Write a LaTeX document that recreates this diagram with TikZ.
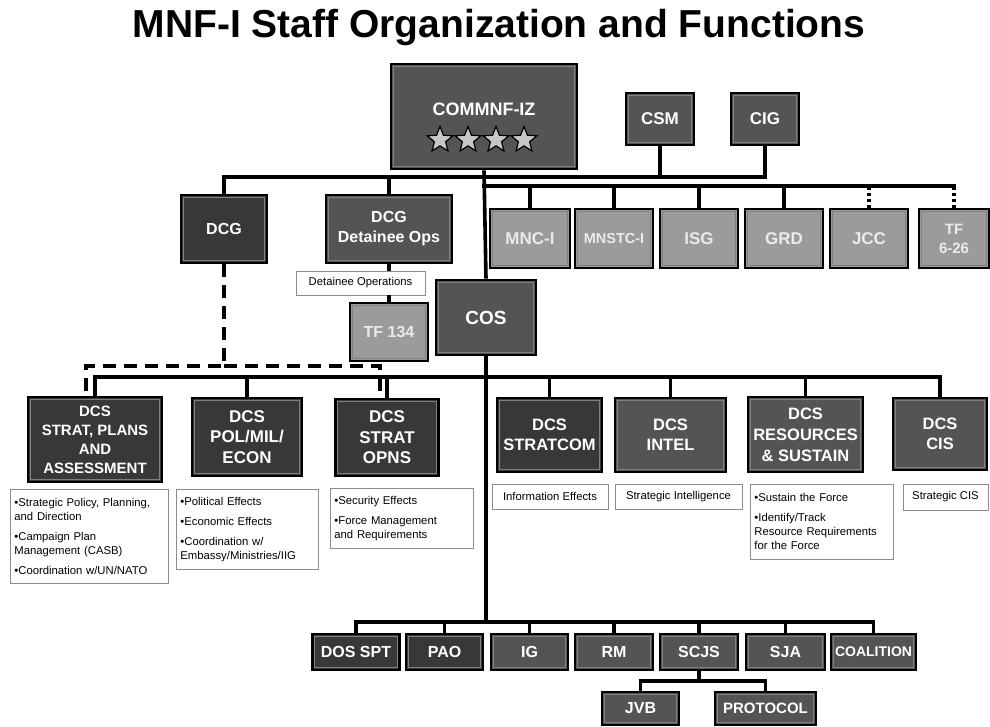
\documentclass[tikz,border=0pt]{standalone}
\usepackage{fontspec}
\setmainfont{Liberation Sans}
\usetikzlibrary{shapes.geometric}
\definecolor{boxdark}{RGB}{56,56,56}
\definecolor{boxmid}{RGB}{84,84,84}
\definecolor{boxlight}{RGB}{155,155,155}
\newcommand\fsz[2]{\fontsize{#1}{#2}\selectfont}
\tikzset{
    unit/.style={draw=black, line width=2.6pt, text=white, align=center, inner sep=1pt,
                 path picture={\draw[black!50, line width=1pt]
                    ([shift={(2.4pt,2.4pt)}]path picture bounding box.south west) rectangle
                    ([shift={(-2.4pt,-2.4pt)}]path picture bounding box.north east);}},
    dark/.style={unit, fill=boxdark},
    mid/.style={unit, fill=boxmid},
    light/.style={unit, fill=boxlight, text=white!92!black},
    sz/.style 2 args={minimum width=#1pt, minimum height=#2pt},
    fn/.style={draw=black!45, line width=0.8pt, fill=white, align=left, anchor=north west,
               font=\fsz{11.3}{14}, inner sep=4pt},
    link/.style={line width=3.6pt},
    dotlink/.style={line width=3.6pt, dash pattern=on 3pt off 3pt},
    dashlink/.style={line width=3.6pt, dash pattern=on 13pt off 8pt},
    rank/.style={star, star points=5, star point ratio=2.3, minimum size=27pt, inner sep=0pt,
                 fill=black!22, draw=black, line width=1.2pt}
}

\begin{document}
\begin{tikzpicture}[x=1pt, y=-1pt]
    \path[use as bounding box, fill=white] (0,0) rectangle (990,726);

    \node[font=\fsz{39}{44}\bfseries] (title) at (499,27) {MNF-I Staff Organization and Functions};

    % command group
    \node[mid, sz={186}{105}, font=\fsz{18}{20}\bfseries, text depth=14pt] (cmd) at (484,116.5) {COMMNF-IZ};
    \foreach \i/\dx in {1/-42,2/-14,3/14,4/42}
        \node[rank] (rank\i) at (482+\dx,140) {};
    \node[mid, sz={68}{52}, font=\fsz{17}{20}\bfseries] (csm) at (660,119) {CSM};
    \node[mid, sz={68}{52}, font=\fsz{17}{20}\bfseries] (cig) at (765,119) {CIG};

    \node[dark, sz={86}{68}, font=\fsz{16}{20}\bfseries] (dcg) at (224,229) {DCG};
    \node[mid, sz={126}{68}, font=\fsz{16}{20}\bfseries] (dcgdet) at (389,229) {DCG\\Detainee Ops};

    \node[light, sz={80}{59}, font=\fsz{17}{20}\bfseries] (mnci) at (530,238.5) {MNC-I};
    \node[light, sz={78}{59}, font=\fsz{14.5}{18}\bfseries] (mnstci) at (614,238.5) {MNSTC-I};
    \node[light, sz={78}{59}, font=\fsz{17}{20}\bfseries] (isg) at (699,238.5) {ISG};
    \node[light, sz={78}{59}, font=\fsz{17}{20}\bfseries] (grd) at (784,238.5) {GRD};
    \node[light, sz={78}{59}, font=\fsz{17}{20}\bfseries] (jcc) at (869,238.5) {JCC};
    \node[light, sz={70}{59}, font=\fsz{15}{19}\bfseries] (tf626) at (954,238.5) {TF\\6-26};

    \node[fn, anchor=center, sz={129}{24}, align=center] (detops) at (360.5,283) {Detainee Operations};
    \node[light, sz={78}{58}, font=\fsz{16}{20}\bfseries] (tf134) at (389,332) {TF 134};
    \node[mid, sz={100}{75}, font=\fsz{19}{22}\bfseries] (cos) at (486,317.5) {COS};

    % staff directorates
    \node[dark, sz={134}{85}, font=\fsz{15}{19}\bfseries] (sp) at (95,439.5) {DCS\\STRAT, PLANS\\AND\\ASSESSMENT};
    \node[dark, sz={110}{78}, font=\fsz{17}{20.5}\bfseries] (pol) at (247,437) {DCS\\POL/MIL/\\ECON};
    \node[dark, sz={103}{77}, font=\fsz{17}{20.5}\bfseries] (opns) at (387,437.5) {DCS\\STRAT\\OPNS};
    \node[dark, sz={105}{74}, font=\fsz{16.5}{20}\bfseries] (stratcom) at (549.5,435) {DCS\\STRATCOM};
    \node[mid, sz={111}{74}, font=\fsz{16.5}{20}\bfseries] (intel) at (670.5,435) {DCS\\INTEL};
    \node[mid, sz={115}{75}, font=\fsz{16.5}{21}\bfseries] (res) at (805.5,434.5) {DCS\\RESOURCES\\\& SUSTAIN};
    \node[mid, sz={94}{72}, font=\fsz{16.5}{20}\bfseries] (cis) at (940,434) {DCS\\CIS};

    \node[fn, text width=150pt, minimum height=94pt] (fsp) at (10,489)
        {•Strategic Policy, Planning,\\and Direction\\[6pt]•Campaign Plan\\Management (CASB)\\[6pt]•Coordination w/UN/NATO};
    \node[fn, text width=134pt, minimum height=80pt] (fpol) at (176,489)
        {•Political Effects\\[6pt]•Economic Effects\\[6pt]•Coordination w/\\Embassy/Ministries/IIG};
    \node[fn, text width=135pt, minimum height=60pt] (fopns) at (330,488)
        {•Security Effects\\[6pt]•Force Management\\and Requirements};
    \node[fn, anchor=center, sz={116}{25}, align=center] (fstratcom) at (550,496.5) {Information Effects};
    \node[fn, anchor=center, sz={127}{25}, align=center] (fintel) at (678.5,496.5) {Strategic Intelligence};
    \node[fn, text width=135pt, minimum height=75pt] (fres) at (750,484)
        {•Sustain the Force\\[6pt]•Identify/Track\\Resource Requirements\\for the Force};
    \node[fn, anchor=center, sz={85}{26}, align=center] (fcis) at (945.5,497) {Strategic CIS};

    % special staff
    \node[dark, sz={87}{36}, font=\fsz{16}{19}\bfseries] (dosspt) at (356,652) {DOS SPT};
    \node[dark, sz={77}{36}, font=\fsz{16}{19}\bfseries] (pao) at (444.5,652) {PAO};
    \node[mid, sz={77}{36}, font=\fsz{16}{19}\bfseries] (ig) at (529.5,652) {IG};
    \node[mid, sz={78}{36}, font=\fsz{16}{19}\bfseries] (rm) at (614,652) {RM};
    \node[mid, sz={78}{36}, font=\fsz{16}{19}\bfseries] (scjs) at (699,652) {SCJS};
    \node[mid, sz={79}{36}, font=\fsz{16}{19}\bfseries] (sja) at (785.5,652) {SJA};
    \node[mid, sz={85}{36}, font=\fsz{14}{17}\bfseries] (coal) at (873.5,652) {COALITION};
    \node[mid, sz={77}{33}, font=\fsz{16}{19}\bfseries] (jvb) at (640.5,708.5) {JVB};
    \node[mid, sz={101}{33}, font=\fsz{15}{18}\bfseries] (prot) at (765.5,708.5) {PROTOCOL};

    % connectors
    \coordinate (b1) at (0,177);
    \coordinate (b2) at (0,186);
    \coordinate (b3) at (0,377);
    \coordinate (b4) at (0,622);
    \coordinate (b5) at (0,681);
    \coordinate (dsh) at (224,366);

    \draw[link] (cmd.south) -- (cos.north);
    \draw[link] (dcg.north) |- (cig.south |- b1) -- (cig.south);
    \draw[link] (csm.south) -- (csm.south |- b1);
    \draw[link] (dcgdet.north) -- (dcgdet.north |- b1);
    \draw[link, line cap=rect] (cmd.south |- b2) -- (tf626.north |- b2);
    \foreach \n in {mnci,mnstci,isg,grd}
        \draw[link] (\n.north) -- (\n.north |- b2);
    \foreach \n in {jcc,tf626}
        \draw[dotlink] (\n.north) -- (\n.north |- b2);
    \draw[link] (dcgdet.south) -- (dcgdet.south |- detops.north);
    \draw[link] (tf134.north |- detops.south) -- (tf134.north);

    \draw[dashlink] (dcg.south) -- (dsh) -| ([xshift=-9pt]sp.north);
    \draw[dashlink] (dsh) -| ([xshift=-7pt]opns.north);

    \draw[link] (sp.north) |- (cis.north |- b3) -- (cis.north);
    \foreach \n in {pol,opns,stratcom,intel,res}
        \draw[link] (\n.north) -- (\n.north |- b3);

    \draw[link] (cos.south) -- (cos.south |- b4);
    \draw[link] (dosspt.north) |- (coal.north |- b4) -- (coal.north);
    \foreach \n in {pao,ig,rm,scjs,sja}
        \draw[link] (\n.north) -- (\n.north |- b4);
    \draw[link] (scjs.south) -- (scjs.south |- b5);
    \draw[link] (jvb.north) |- (prot.north |- b5) -- (prot.north);
\end{tikzpicture}
\end{document}
